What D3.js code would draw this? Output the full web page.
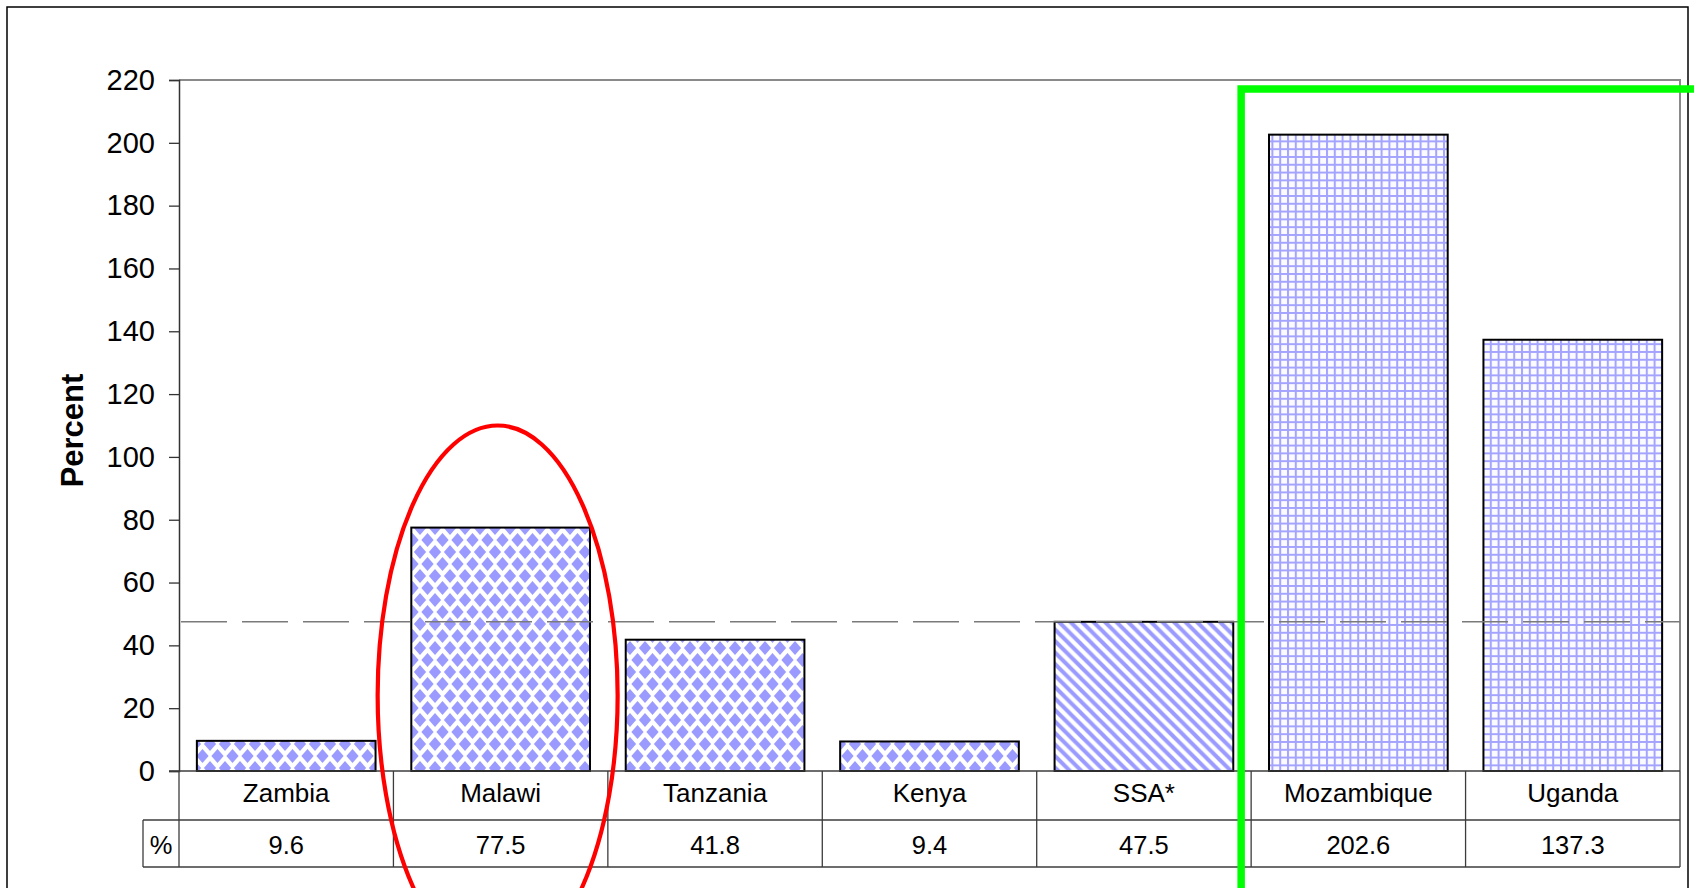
<!DOCTYPE html>
<html>
<head>
<meta charset="utf-8">
<script src="https://cdn.jsdelivr.net/npm/d3@7"></script>
<style>
  html, body { margin: 0; padding: 0; background: #fff; }
  svg { display: block; }
  text { font-family: "Liberation Sans", Arial, sans-serif; fill: #000; }
</style>
</head>
<body>
<svg id="chart" width="1694" height="888"></svg>
<script>
// Growth by country, percent
const categories = ["Zambia", "Malawi", "Tanzania", "Kenya", "SSA*", "Mozambique", "Uganda"];
const values = [9.6, 77.5, 41.8, 9.4, 47.5, 202.6, 137.3];
const valueLabels = ["9.6", "77.5", "41.8", "9.4", "47.5", "202.6", "137.3"];
const fillKinds = ["diamond", "diamond", "diamond", "diamond", "stripe", "grid", "grid"];
const yTicks = [0, 20, 40, 60, 80, 100, 120, 140, 160, 180, 200, 220];
const yDomain = [0, 220];
const referenceValue = 47.5;      // sub-Saharan average, drawn as dashed line
const highlightCategory = "Malawi";
const bracketCategories = ["Mozambique", "Uganda"];

const svg = d3.select("#chart");
const W = 1694, H = 888;
const plot = { left: 179, right: 1680, top: 80, bottom: 771 };
const rowH1 = 49, rowH2 = 47;   // category row, value row
const pctLeft = 143;

const x = d3.scaleBand().domain(categories)
  .range([plot.left, plot.right])
  .paddingInner(1 / 6).paddingOuter(1 / 12);
const y = d3.scaleLinear().domain(yDomain).range([plot.bottom, plot.top]);

// ---- fill patterns ----
const defs = svg.append("defs");
const blue = "#9a9aff";

const dW = 15, dH = 24;
const pd = defs.append("pattern").attr("id", "fill-diamond")
  .attr("patternUnits", "userSpaceOnUse").attr("width", dW).attr("height", dH);
pd.append("rect").attr("width", dW).attr("height", dH).attr("fill", "#fff");
const diamondCenters = [[0, 0], [dW, 0], [0, dH], [dW, dH], [dW / 2, dH / 2]];
diamondCenters.forEach(([cx, cy]) => {
  const hw = 6.1, hh = 7;
  pd.append("path")
    .attr("d", `M${cx - hw},${cy}L${cx},${cy - hh}L${cx + hw},${cy}L${cx},${cy + hh}Z`)
    .attr("fill", blue);
});

const sW = 11.5;
const ps = defs.append("pattern").attr("id", "fill-stripe")
  .attr("patternUnits", "userSpaceOnUse").attr("width", sW).attr("height", sW);
ps.append("rect").attr("width", sW).attr("height", sW).attr("fill", "#fff");
ps.append("path")
  .attr("d", `M-3,-3L${sW + 3},${sW + 3}M-3,${sW - 3}L3,${sW + 3}M${sW - 3},-3L${sW + 3},3`)
  .attr("stroke", blue).attr("stroke-width", 4);

const pg = defs.append("pattern").attr("id", "fill-grid")
  .attr("patternUnits", "userSpaceOnUse").attr("width", 7.8).attr("height", 7.8);
pg.append("rect").attr("width", 7.8).attr("height", 7.8).attr("fill", "#fbfbff");
pg.append("path").attr("d", "M0,1H7.8M1,0V7.8")
  .attr("stroke", "#a4a4ff").attr("stroke-width", 2);

// ---- outer chart border ----
svg.append("rect").attr("x", 7).attr("y", 7).attr("width", 1681).attr("height", 920)
  .attr("fill", "none").attr("stroke", "#000").attr("stroke-width", 1.5);

// ---- plot area frame (top and right) ----
svg.append("path")
  .attr("d", `M${plot.left},${plot.top}H${plot.right}V${plot.bottom}`)
  .attr("fill", "none").attr("stroke", "#8a8a8a").attr("stroke-width", 2);

// ---- bars ----
svg.append("g").selectAll("rect").data(categories).join("rect")
  .attr("x", d => x(d))
  .attr("y", (d, i) => y(values[i]))
  .attr("width", x.bandwidth())
  .attr("height", (d, i) => y(0) - y(values[i]))
  .attr("fill", (d, i) => `url(#fill-${fillKinds[i]})`)
  .attr("stroke", "#000").attr("stroke-width", 2);

// ---- reference line ----
svg.append("line")
  .attr("x1", plot.left + 2).attr("x2", plot.right)
  .attr("y1", y(referenceValue)).attr("y2", y(referenceValue))
  .attr("stroke", "#7a7a7a").attr("stroke-width", 1.4)
  .attr("stroke-dasharray", "46,15");

// ---- y axis ----
const yAxis = d3.axisLeft(y).tickValues(yTicks).tickSize(10).tickPadding(14);
const gy = svg.append("g").attr("transform", `translate(${plot.left},0)`).call(yAxis);
gy.select(".domain").attr("stroke", "#333").attr("stroke-width", 1.5);
gy.selectAll(".tick line").attr("stroke", "#333").attr("stroke-width", 1.3);
gy.selectAll(".tick text")
  .style("font-size", "29px").style("font-family", "'Liberation Sans', Arial, sans-serif")
  .attr("fill", "#000");

svg.append("text")
  .attr("transform", `translate(82.5,${(plot.top + plot.bottom) / 2 + 5}) rotate(-90)`)
  .attr("text-anchor", "middle")
  .style("font-size", "31px").style("font-weight", "bold")
  .text("Percent");

// ---- data table under the axis ----
const tbl = svg.append("g").attr("stroke", "#3c3c3c").attr("stroke-width", 1.3).attr("fill", "none");
const step = x.step();
const r0 = plot.bottom, r1 = plot.bottom + rowH1, r2 = r1 + rowH2;
tbl.append("line").attr("x1", plot.left - 10).attr("x2", plot.right).attr("y1", r0).attr("y2", r0);
tbl.append("line").attr("x1", pctLeft).attr("x2", plot.right).attr("y1", r1).attr("y2", r1);
tbl.append("line").attr("x1", pctLeft).attr("x2", plot.right).attr("y1", r2).attr("y2", r2);
tbl.append("line").attr("x1", pctLeft).attr("x2", pctLeft).attr("y1", r1).attr("y2", r2);
d3.range(categories.length + 1).forEach(i => {
  const xx = plot.left + i * step;
  tbl.append("line").attr("x1", xx).attr("x2", xx).attr("y1", r0).attr("y2", r2);
});

const textStyle = sel => sel.attr("text-anchor", "middle").attr("dominant-baseline", "central")
  .style("font-size", "25.5px");

svg.append("g").selectAll("text").data(categories).join("text")
  .attr("x", d => x(d) + x.bandwidth() / 2)
  .attr("y", (r0 + r1) / 2 - 3)
  .call(textStyle)
  .style("font-size", "26px")
  .text(d => d);

svg.append("g").selectAll("text").data(valueLabels).join("text")
  .attr("x", (d, i) => x(categories[i]) + x.bandwidth() / 2)
  .attr("y", (r1 + r2) / 2 + 1)
  .call(textStyle)
  .text(d => d);

svg.append("text")
  .attr("x", (pctLeft + plot.left) / 2).attr("y", (r1 + r2) / 2 + 1)
  .call(textStyle).text("%");

// ---- highlight annotations ----
const ex = x(highlightCategory) + x.bandwidth() / 2 - 3;
const eTop = y(110);
const ery = 270;
svg.append("ellipse")
  .attr("cx", ex).attr("cy", eTop + ery)
  .attr("rx", 120).attr("ry", ery)
  .attr("fill", "none").attr("stroke", "#ff0000").attr("stroke-width", 4.2);

const gx = x(bracketCategories[0]) - x.step() * (1 / 12) - 10;
const gyTop = plot.top + 9;
svg.append("path")
  .attr("d", `M${gx},${H + 10}V${gyTop}H${W + 10}`)
  .attr("fill", "none").attr("stroke", "#00ff00").attr("stroke-width", 7.5);
</script>
</body>
</html>
